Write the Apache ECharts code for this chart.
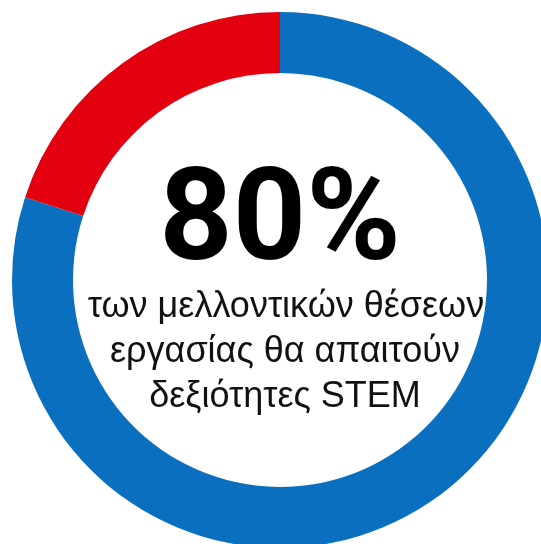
<!DOCTYPE html>
<html><head><meta charset="utf-8">
<script src="https://cdn.jsdelivr.net/npm/echarts@6/dist/echarts.min.js"></script>
<style>html,body{margin:0;padding:0;background:#fff;}#c{width:541px;height:544px;}</style>
</head><body><div id="c"></div>
<script>
const categories = ['Απαιτούν δεξιότητες STEM', 'Άλλες'];
const values = [80, 20];
const colors = ['#0b6fbf', '#e3000f'];
const bigLabel = '80%';
const textLines = ['των μελλοντικών θέσεων', 'εργασίας θα απαιτούν', 'δεξιότητες STEM'];

const chart = echarts.init(document.getElementById('c'), null, {renderer: 'canvas'});
const lineFont = '36px "Liberation Sans", Arial, sans-serif';
chart.setOption({
  animation: false,
  backgroundColor: '#fff',
  series: [{
    type: 'pie',
    center: [280, 280],
    radius: [207, 268],
    startAngle: 90,
    clockwise: true,
    silent: true,
    label: {show: false},
    labelLine: {show: false},
    itemStyle: {borderWidth: 0},
    emphasis: {disabled: true},
    data: categories.map((n, i) => ({name: n, value: values[i], itemStyle: {color: colors[i]}}))
  }],
  graphic: [
    {type: 'text', x: 280, y: 163, style: {text: bigLabel, font: 'bold 128px Roboto, "Liberation Sans", sans-serif', fill: '#000', align: 'center', verticalAlign: 'top'}},
    {type: 'text', x: 286, y: 289, style: {text: textLines[0], font: lineFont, fill: '#111', align: 'center', verticalAlign: 'top'}},
    {type: 'text', x: 285, y: 334, style: {text: textLines[1], font: lineFont, fill: '#111', align: 'center', verticalAlign: 'top'}},
    {type: 'text', x: 285, y: 379, style: {text: textLines[2], font: lineFont, fill: '#111', align: 'center', verticalAlign: 'top'}}
  ]
});
</script></body></html>
